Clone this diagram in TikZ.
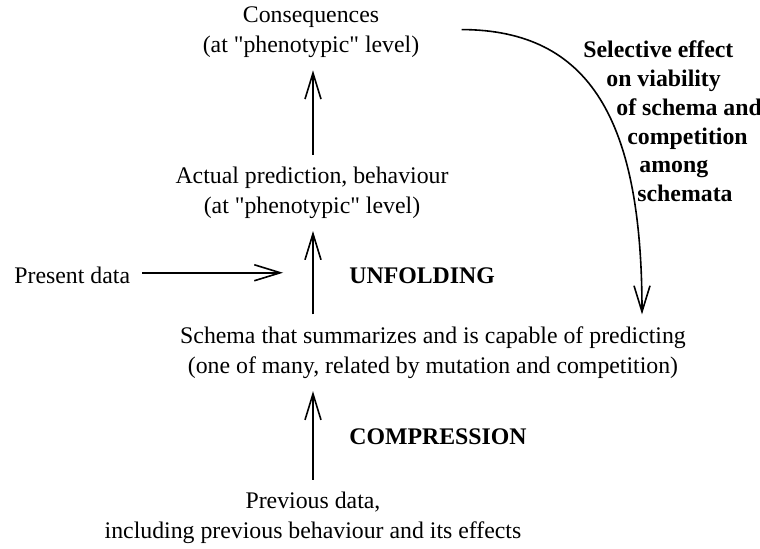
\documentclass[tikz,border=0pt]{standalone}
\usepackage{fontspec}
\setmainfont{Liberation Serif}
\usetikzlibrary{arrows.meta}

\begin{document}
\begin{tikzpicture}[x=0.5pt, y=-0.5pt,
  txt/.style={inner sep=0pt, align=center, font={\fontsize{11.9}{15}\selectfont}},
  tag/.style={inner sep=0pt, font={\fontsize{11.9}{15}\selectfont\bfseries}},
  flow/.style={line width=0.8pt, -{Straight Barb[length=13pt,width=8pt]}, shorten <=6pt, shorten >=6pt}]
\useasboundingbox (0,0) rectangle (760,548);

% levels
\node[txt] (cons) at (311,32.5) {Consequences\\(at \textquotedbl phenotypic\textquotedbl{} level)};
\node[txt] (act) at (312,192.8) {Actual prediction, behaviour\\(at \textquotedbl phenotypic\textquotedbl{} level)};
\node[txt] (sch) at (433,352.8) {Schema that summarizes and is capable of predicting\\(one of many, related by mutation and competition)};
\node[txt] (prev) at (313,517.8) {Previous data,\\including previous behaviour and its effects};
\node[txt, anchor=base west] (pres) at (14,283) {Present data};

% process names
\node[tag, anchor=base west] (unf) at (349,283) {UNFOLDING};
\node[tag, anchor=base west] (comp) at (349,444) {COMPRESSION};
\foreach \x/\txt [count=\i from 0] in {583/Selective effect, 606/on viability, 616/of schema and, 627/competition, 639/among, 637/schemata}
  \node[tag, anchor=base west] (sel\i) at (\x, 57.7+28.8*\i) {\txt};

% arrows
\draw[flow] (prev.north) -- (prev.north |- sch.south);
\draw[flow] (sch.north -| prev.north) -- (act.south -| prev.north);
\draw[flow] (act.north -| prev.north) -- (cons.south -| prev.north);
\path (act.south -| prev.north) -- (sch.north -| prev.north) coordinate[pos=0.5] (feed);
\draw[flow] (pres.east |- feed) -- ([xshift=-9pt]feed);
\draw[flow] ([shift={(15pt,1.5pt)}]cons.east) .. controls (590,30) and (642,120) .. ([xshift=104.5pt]sch.north);
\end{tikzpicture}
\end{document}
